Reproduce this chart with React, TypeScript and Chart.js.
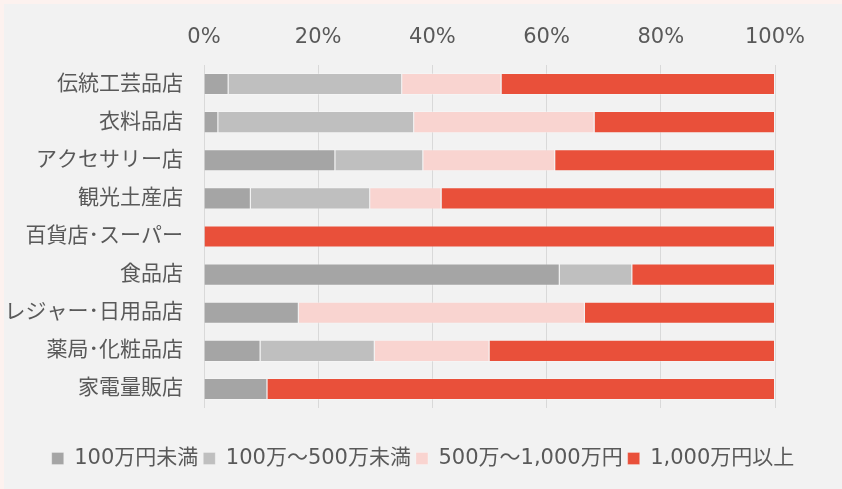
import React, { useEffect, useRef } from "react";
import { Chart, registerables } from "chart.js";

Chart.register(...registerables);

const categories = [
  "伝統工芸品店",
  "衣料品店",
  "アクセサリー店",
  "観光土産店",
  "百貨店･スーパー",
  "食品店",
  "レジャー･日用品店",
  "薬局･化粧品店",
  "家電量販店",
];

const seriesNames = ["100万円未満", "100万～500万未満", "500万～1,000万円", "1,000万円以上"];

const under100 = [4.3, 2.5, 23.0, 8.2, 0, 62.3, 16.6, 9.9, 11.1];
const from100to500 = [30.4, 34.3, 15.4, 20.9, 0, 12.7, 0, 20.0, 0];
const from500to1000 = [17.4, 31.6, 23.1, 12.5, 0, 0, 50.1, 20.1, 0];
const over1000 = [47.9, 31.6, 38.5, 58.4, 100, 25.0, 33.3, 50.0, 88.9];

const xTicks = [0, 20, 40, 60, 80, 100];

const colors = ["#a5a5a5", "#bfbfbf", "#f9d4d0", "#e9503a"];

const FONT = "'DejaVu Sans', 'Noto Sans CJK JP', sans-serif";
const TEXT = "#595959";

export default function App() {
  const ref = useRef<HTMLCanvasElement | null>(null);

  useEffect(() => {
    if (!ref.current) return;
    const values = [under100, from100to500, from500to1000, over1000];
    const chart = new Chart(ref.current, {
      type: "bar",
      data: {
        labels: categories,
        datasets: values.map((v, i) => ({
          label: seriesNames[i],
          data: v,
          backgroundColor: colors[i],
          borderColor: "rgba(255,255,255,0.25)",
          borderWidth: 1,
          categoryPercentage: 1,
          barPercentage: 0.58,
        })),
      },
      options: {
        indexAxis: "y",
        animation: false,
        responsive: true,
        maintainAspectRatio: false,
        layout: { padding: { left: 0, right: 0, top: 0, bottom: 10 } },
        scales: {
          x: {
            position: "top",
            stacked: true,
            min: 0,
            max: 100,
            afterBuildTicks: (scale: any) => {
              scale.ticks = xTicks.map((v) => ({ value: v }));
            },
            afterFit: (scale: any) => {
              scale.height = 61;
            },
            grid: { color: "#d9d9d9", lineWidth: 1, drawTicks: false },
            border: { display: false },
            ticks: {
              padding: 15,
              color: TEXT,
              font: { family: FONT, size: 21 },
              callback: (v: any) => v + "%",
            },
          },
          y: {
            stacked: true,
            afterFit: (scale: any) => {
              scale.width = 200;
            },
            grid: { display: false, drawTicks: false },
            border: { display: false },
            ticks: {
              padding: 21,
              color: TEXT,
              font: { family: FONT, size: 21 },
            },
          },
          spacer: {
            type: "category",
            position: "right",
            afterFit: (scale: any) => {
              scale.width = 67;
            },
            grid: { display: false, drawTicks: false },
            border: { display: false },
            ticks: { display: false },
          },
        },
        plugins: {
          legend: {
            position: "bottom",
            title: {
              display: true,
              text: " ",
              font: { size: 11, lineHeight: 1 },
              padding: { top: 12, bottom: 12 },
            },
            labels: {
              boxWidth: 12,
              boxHeight: 12,
              padding: 5,
              color: TEXT,
              font: { family: FONT, size: 21 },
            },
          },
          tooltip: { enabled: false },
        },
      },
    });
    return () => chart.destroy();
  }, []);

  return (
    <div
      style={{
        position: "absolute",
        left: 0,
        top: 0,
        width: 842,
        height: 489,
        background: "#fdf2ef",
      }}
    >
      <div
        style={{
          position: "absolute",
          left: 4,
          top: 4,
          width: 838,
          height: 485,
          background: "#f2f2f2",
        }}
      >
        <canvas ref={ref} />
      </div>
    </div>
  );
}
